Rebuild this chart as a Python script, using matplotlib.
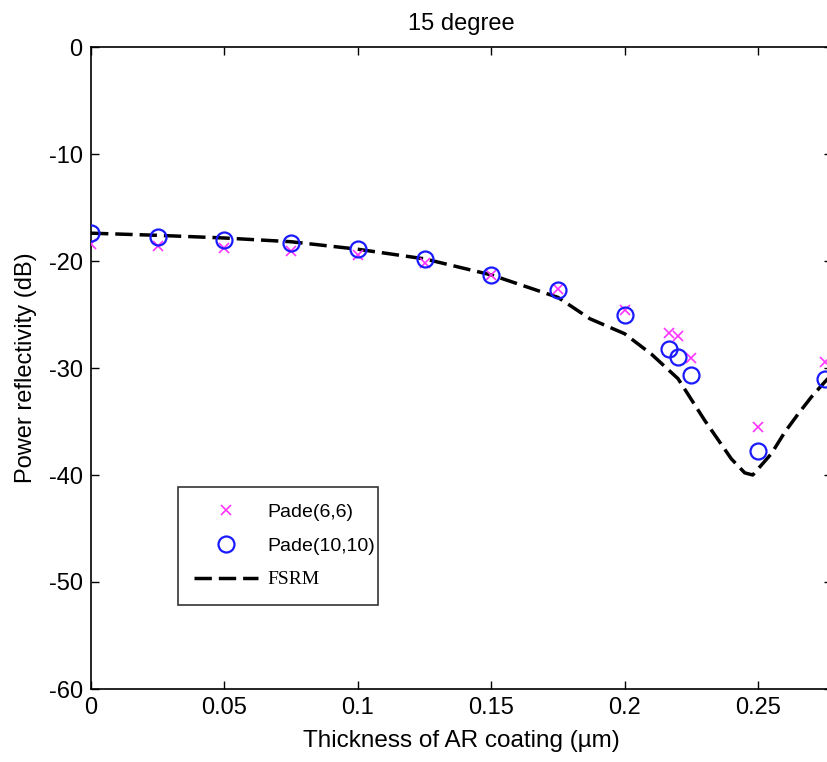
"""
Power reflectivity vs AR coating thickness at 15 degrees.
"""

import matplotlib.pyplot as plt

# Pade(6,6) results
pade6_x = [0, 0.025, 0.05, 0.075, 0.1, 0.125, 0.15, 0.175, 0.2, 0.2167, 0.22, 0.225, 0.25, 0.275]
pade6_y = [-18.4, -18.6, -18.8, -19.1, -19.4, -20.2, -21.3, -22.6, -24.6, -26.7, -27.0, -29.1, -35.5, -29.4]

# Pade(10,10) results
pade10_x = [0, 0.025, 0.05, 0.075, 0.1, 0.125, 0.15, 0.175, 0.2, 0.2167, 0.22, 0.225, 0.25, 0.275]
pade10_y = [-17.4, -17.8, -18.0, -18.35, -18.9, -19.8, -21.3, -22.7, -25.0, -28.2, -29.0, -30.7, -37.8, -31.0]

# FSRM reference curve
fsrm_x = [0, 0.025, 0.05, 0.075, 0.1, 0.125, 0.15, 0.175, 0.187, 0.2, 0.21, 0.22,
          0.23, 0.24, 0.245, 0.248, 0.255, 0.26, 0.265, 0.27, 0.275, 0.28]
fsrm_y = [-17.4, -17.6, -17.85, -18.2, -18.9, -19.8, -21.3, -23.4, -25.4, -26.8, -28.7, -31.0,
          -34.9, -38.5, -39.8, -40.0, -38.0, -36.0, -34.3, -32.7, -31.3, -30.0]

plt.rcParams["font.family"] = ["Liberation Sans", "DejaVu Sans"]
plt.rcParams["axes.unicode_minus"] = False

fig = plt.figure(figsize=(8.28, 7.62), dpi=100)
ax = fig.add_axes([91 / 828, 73 / 762, 741 / 828, 642 / 762])

ax.plot(fsrm_x, fsrm_y, color="black", linestyle=(0, (5, 2)), linewidth=2.5, label="FSRM", zorder=2)
ax.plot(pade6_x, pade6_y, linestyle="none", marker="x", markersize=7, markeredgewidth=1.2,
        color="#ff33ff", label="Pade(6,6)", zorder=3)
ax.plot(pade10_x, pade10_y, linestyle="none", marker="o", markersize=11.5, markeredgewidth=1.6,
        markerfacecolor="none", markeredgecolor="#1a1aff", label="Pade(10,10)", zorder=4)

ax.set_xlim(0, 0.2777)
ax.set_ylim(-60, 0)
ax.set_xticks([0, 0.05, 0.1, 0.15, 0.2, 0.25])
ax.set_xticklabels(["0", "0.05", "0.1", "0.15", "0.2", "0.25"])
ax.set_yticks([0, -10, -20, -30, -40, -50, -60])
ax.tick_params(direction="in", length=6, width=1, labelsize=17, top=True, right=True, pad=6)
for spine in ax.spines.values():
    spine.set_linewidth(1.2)

ax.set_title("15 degree", fontsize=17, pad=12)
ax.set_xlabel("Thickness of AR coating (\u00b5m)", fontsize=17.5, labelpad=8)
ax.set_ylabel("Power reflectivity (dB)", fontsize=17, labelpad=8)

handles, labels = ax.get_legend_handles_labels()
order = [1, 2, 0]
leg = ax.legend([handles[i] for i in order], [labels[i] for i in order],
                loc="upper left", bbox_to_anchor=(0.117, 0.131, 0.27, 0.184), mode="expand",
                borderaxespad=0, fontsize=14, frameon=True, fancybox=False, edgecolor="black",
                handlelength=3.3, handletextpad=0.45, labelspacing=0.83, borderpad=0.85)
leg.get_frame().set_linewidth(1.2)
leg.get_texts()[2].set_family("Liberation Serif")

fig.savefig("out.png", dpi=100)
